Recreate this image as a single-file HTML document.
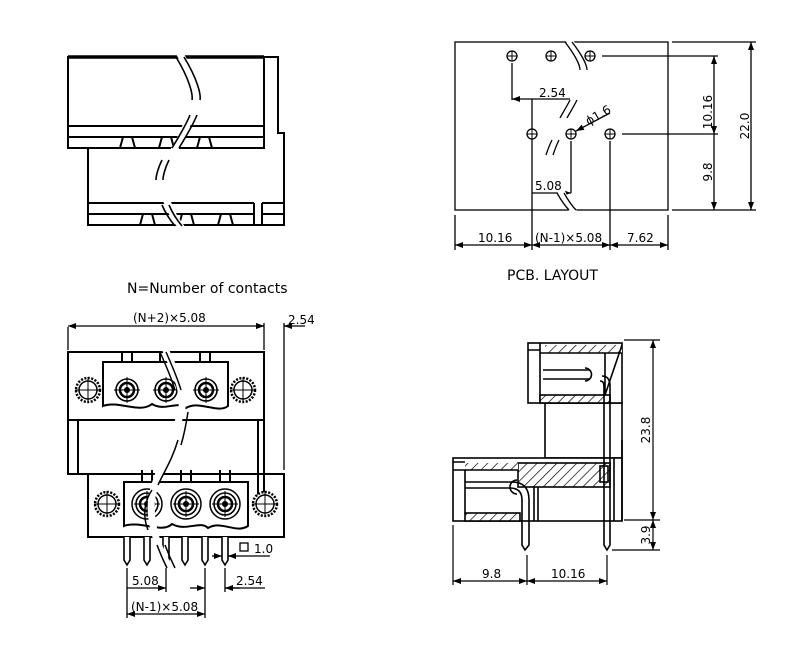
<!DOCTYPE html>
<html><head><meta charset="utf-8"><style>
html,body{margin:0;padding:0;background:#fff}
svg{display:block}
text{font-family:"DejaVu Sans","Liberation Sans",sans-serif;font-size:12px;fill:#000}
</style></head><body>
<svg width="800" height="660" viewBox="0 0 800 660" xmlns="http://www.w3.org/2000/svg">
<defs>
<pattern id="h" width="7" height="7" patternUnits="userSpaceOnUse" patternTransform="rotate(45)">
<rect width="7" height="7" fill="#fff"/><line x1="0" y1="0" x2="0" y2="7" stroke="#000" stroke-width="1.4"/></pattern>
<marker id="a" markerWidth="8" markerHeight="6" refX="8" refY="3" orient="auto" markerUnits="userSpaceOnUse"><path d="M0,0 L8,3 L0,6z" fill="#000"/></marker>
<marker id="b" markerWidth="8" markerHeight="6" refX="0" refY="3" orient="auto" markerUnits="userSpaceOnUse"><path d="M8,0 L0,3 L8,6z" fill="#000"/></marker>
<g id="scr"><circle r="11" fill="#fff" stroke="#000" stroke-width="1.6"/><circle r="7" fill="none" stroke="#000" stroke-width="2.5"/><circle r="3" fill="#000"/><line x1="-13" y1="0" x2="13" y2="0" stroke="#000" stroke-width="1"/><line x1="0" y1="-13" x2="0" y2="13" stroke="#000" stroke-width="1"/></g>
<g id="gear"><circle r="12" fill="#fff" stroke="#000" stroke-width="2.5" stroke-dasharray="2 1.5"/><circle r="9" fill="none" stroke="#000" stroke-width="1.5"/><line x1="-13" y1="0" x2="13" y2="0" stroke="#000"/><line x1="0" y1="-13" x2="0" y2="13" stroke="#000"/></g>
<g id="hole"><circle r="5" fill="#fff" stroke="#000" stroke-width="1.3"/><line x1="-5" y1="0" x2="5" y2="0" stroke="#000"/><line x1="0" y1="-5" x2="0" y2="5" stroke="#000"/></g>
</defs>

<!-- TOP LEFT -->
<g fill="none" stroke="#000" stroke-width="2">
<rect x="68" y="57" width="196" height="91"/>
<line x1="68" y1="57" x2="264" y2="57" stroke-width="3.5"/>
<line x1="68" y1="126" x2="264" y2="126"/>
<line x1="68" y1="137" x2="264" y2="137"/>
<path d="M264,57 H278 V133 H284 V225 H88 V148"/>
<line x1="88" y1="203" x2="254" y2="203"/>
<line x1="88" y1="214" x2="254" y2="214"/>
<line x1="262" y1="203" x2="284" y2="203"/>
<line x1="262" y1="214" x2="284" y2="214"/>
<line x1="254" y1="203" x2="254" y2="225"/>
<line x1="262" y1="203" x2="262" y2="225"/>
<path d="M120,148 L123,137 H132 L135,148 M159,148 L162,137 H171 L174,148 M197,148 L200,137 H209 L212,148"/>
<path d="M140,225 L143,214 H152 L155,225 M179,225 L182,214 H191 L194,225 M218,225 L221,214 H230 L233,225"/>
</g>
<path d="M176,54 C192,80 195,110 170,150 C150,185 165,210 178,228 L186,228 C172,210 158,185 178,150 C203,110 200,80 184,54z" fill="#fff"/>
<path d="M176,57 C190,80 193,95 192,100 M184,57 C198,80 201,95 200,100 M190,115 C186,125 180,135 172,148 M197,115 C193,125 187,135 179,148 M162,160 C158,168 156,176 156,180 M169,160 C165,168 163,176 163,180 M162,205 C165,212 170,220 175,226 M169,205 C172,212 177,220 182,226" fill="none" stroke="#000" stroke-width="1.6"/>

<!-- PCB -->
<g fill="none" stroke="#000" stroke-width="1.3">
<rect x="455" y="42" width="213" height="168"/>
<line x1="672" y1="42" x2="756" y2="42"/><line x1="672" y1="210" x2="756" y2="210"/>
<line x1="751" y1="42" x2="751" y2="210" marker-start="url(#b)" marker-end="url(#a)"/>
<line x1="602" y1="56" x2="718" y2="56"/><line x1="622" y1="134" x2="718" y2="134"/>
<line x1="714" y1="56" x2="714" y2="134" marker-start="url(#b)" marker-end="url(#a)"/>
<line x1="714" y1="134" x2="714" y2="210" marker-end="url(#a)"/>
<line x1="512" y1="63" x2="512" y2="100"/>
<line x1="512" y1="99" x2="570" y2="99" marker-start="url(#b)"/>
<line x1="532" y1="99" x2="532" y2="250"/>
<line x1="610" y1="141" x2="610" y2="250"/>
<line x1="571" y1="141" x2="571" y2="193"/>
<line x1="532" y1="193" x2="571" y2="193" marker-end="url(#a)"/>
<line x1="455" y1="215" x2="455" y2="250"/><line x1="668" y1="215" x2="668" y2="250"/>
<line x1="455" y1="245" x2="532" y2="245" marker-start="url(#b)" marker-end="url(#a)"/>
<line x1="532" y1="245" x2="610" y2="245" marker-start="url(#b)" marker-end="url(#a)"/>
<line x1="610" y1="245" x2="668" y2="245" marker-start="url(#b)" marker-end="url(#a)"/>
<line x1="610" y1="113" x2="576" y2="131" marker-end="url(#a)"/>
</g>
<path d="M565,40 C580,60 580,100 555,140 C545,165 555,195 570,212 L578,212 C563,195 553,165 563,140 C588,100 588,60 573,40z" fill="#fff"/>
<path d="M565,42 C575,55 580,65 580,70 M572,42 C582,55 587,65 587,70 M570,100 C566,108 562,114 560,118 M577,100 C573,108 569,114 567,118 M552,140 C549,146 547,152 546,155 M559,140 C556,146 554,152 553,155 M557,193 C561,200 565,206 569,210 M564,193 C568,200 572,206 576,210" fill="none" stroke="#000" stroke-width="1.3"/>
<use href="#hole" x="512" y="56"/><use href="#hole" x="551" y="56"/><use href="#hole" x="590" y="56"/>
<use href="#hole" x="532" y="134"/><use href="#hole" x="571" y="134"/><use href="#hole" x="610" y="134"/>
<text x="539" y="97">2.54</text>
<text x="535" y="190">5.08</text>
<text x="586" y="124" transform="rotate(-30 590 120)">ϕ1.6</text>
<text x="478" y="242">10.16</text>
<text x="535" y="242">(N-1)×5.08</text>
<text x="627" y="242">7.62</text>
<text x="712" y="112" transform="rotate(-90 712 112)" text-anchor="middle">10.16</text>
<text x="712" y="172" transform="rotate(-90 712 172)" text-anchor="middle">9.8</text>
<text x="749" y="126" transform="rotate(-90 749 126)" text-anchor="middle">22.0</text>
<text x="507" y="280" style="font-size:14px">PCB. LAYOUT</text>
<text x="127" y="293" style="font-size:14px">N=Number of contacts</text>

<!-- BOTTOM LEFT front -->
<g fill="none" stroke="#000" stroke-width="1.3">
<line x1="68" y1="327" x2="68" y2="350"/><line x1="264" y1="323" x2="264" y2="350"/><line x1="284" y1="323" x2="284" y2="470"/>
<line x1="68" y1="326" x2="264" y2="326" marker-start="url(#b)" marker-end="url(#a)"/>
<line x1="256" y1="326" x2="264" y2="326" marker-end="url(#a)"/>
<line x1="292" y1="326" x2="284" y2="326" marker-end="url(#a)"/>
<line x1="284" y1="326" x2="305" y2="326"/>
</g>
<text x="133" y="322">(N+2)×5.08</text>
<text x="288" y="324">2.54</text>
<g fill="none" stroke="#000" stroke-width="2">
<path d="M68,352 H264 V420 H68z"/>
<path d="M78,420 V474 M68,352 V474 H88"/>
<path d="M258,420 V495 H264 V420"/>
<rect x="88" y="474" width="196" height="63"/>
<path d="M103,362 H228 V406 C218,414 200,400 186,408 C178,400 165,412 152,404 C140,414 118,400 103,406z"/>
<path d="M124,482 H248 V526 C236,534 222,520 208,528 C200,520 186,532 172,524 C162,534 140,520 124,526z"/>
<path d="M122,362 V352 M132,362 V352 M160,362 V352 M170,362 V352 M200,362 V352 M210,362 V352"/>
<path d="M142,482 V470 M152,482 V470 M181,482 V470 M191,482 V470 M220,482 V470 M230,482 V470"/>
</g>
<g stroke="#000" stroke-width="1.5" fill="none">
<circle cx="147" cy="504" r="15"/><circle cx="186" cy="504" r="15"/><circle cx="225" cy="504" r="15"/>
</g>
<use href="#scr" x="127" y="390"/><use href="#scr" x="166" y="390"/><use href="#scr" x="206" y="390"/>
<use href="#scr" x="147" y="504"/><use href="#scr" x="186" y="504"/><use href="#scr" x="225" y="504"/>
<use href="#gear" x="88" y="390"/><use href="#gear" x="243" y="390"/>
<use href="#gear" x="107" y="504"/><use href="#gear" x="265" y="504"/>
<g fill="#fff" stroke="#000" stroke-width="1.6">
<path d="M124,537 V560 L127,565 L130,560 V537"/><path d="M144,537 V560 L147,565 L150,560 V537"/>
<path d="M163,537 V560 L166,565 L169,560 V537"/><path d="M182,537 V560 L185,565 L188,560 V537"/>
<path d="M202,537 V560 L205,565 L208,560 V537"/><path d="M222,537 V560 L225,565 L228,560 V537"/>
</g>
<path d="M160,345 C170,370 182,390 178,410 C170,440 150,480 148,500 C146,525 155,550 168,570 L175,570 C162,550 153,525 155,500 C158,480 178,440 185,410 C190,390 178,370 167,345z" fill="#fff"/>
<path d="M160,352 C168,370 172,380 175,390 M166,352 C174,370 178,380 181,390 M188,412 C186,425 184,435 181,445 M178,440 C172,460 165,470 158,485 M152,490 C145,500 142,515 148,530 M157,545 C160,553 163,560 167,568 M165,545 C168,553 171,560 175,568" fill="none" stroke="#000" stroke-width="1.5"/>
<g fill="none" stroke="#000" stroke-width="1.3">
<rect x="240" y="543" width="8" height="8"/>
<line x1="212" y1="556" x2="222" y2="556" marker-end="url(#a)"/><line x1="236" y1="556" x2="228" y2="556" marker-end="url(#a)"/>
<line x1="228" y1="556" x2="270" y2="556"/>
<line x1="127" y1="568" x2="127" y2="618"/><line x1="166" y1="568" x2="166" y2="592"/>
<line x1="205" y1="568" x2="205" y2="618"/><line x1="225" y1="568" x2="225" y2="592"/>
<line x1="127" y1="588" x2="166" y2="588" marker-end="url(#a)"/>
<line x1="190" y1="588" x2="205" y2="588" marker-end="url(#a)"/>
<line x1="240" y1="588" x2="225" y2="588" marker-end="url(#a)"/><line x1="225" y1="588" x2="265" y2="588"/>
<line x1="127" y1="614" x2="205" y2="614" marker-start="url(#b)" marker-end="url(#a)"/>
</g>
<text x="254" y="553">1.0</text>
<text x="132" y="585">5.08</text>
<text x="236" y="585">2.54</text>
<text x="131" y="611">(N-1)×5.08</text>

<!-- SIDE VIEW -->
<g fill="none" stroke="#000" stroke-width="1.6">
<rect x="545" y="403" width="77" height="55"/>
<rect x="528" y="343" width="94" height="60" fill="#fff"/>
<path d="M540,343 V403 M528,350 H540"/>
<rect x="545" y="345" width="77" height="8" fill="url(#h)" stroke="none"/>
<rect x="540" y="395" width="70" height="8" fill="url(#h)"/>
<path d="M605,353 V395 L622,345" />
<path d="M540,353 H622"/>
<path d="M543,370 H590 M543,379 H590"/>
<path d="M585,368 A5,5 0 0 1 585,381"/>
<rect x="453" y="458" width="169" height="63" fill="#fff"/>
<rect x="518" y="463" width="92" height="24" fill="url(#h)"/>
<rect x="465" y="463" width="53" height="7" fill="url(#h)" stroke="none"/>
<rect x="465" y="513" width="55" height="8" fill="url(#h)"/>
<path d="M453,470 H518 M465,470 V513 M453,462 H465"/>
<path d="M465,488 H510 Q522,488 522,500 V545 L525,550 L529,545 V500 Q529,482 512,482 H465"/>
<path d="M517,480 A7,7 0 0 0 517,494"/>
<path d="M534,487 V521 M538,487 V521"/>
<rect x="600" y="466" width="8" height="16"/>
<path d="M602,376 Q610,376 610,386 V545 L607,550 L604,545 V386 Q604,381 600,381"/>
<path d="M614,458 V521 M622,440 V521"/>
</g>
<g fill="none" stroke="#000" stroke-width="1.2">
<line x1="624" y1="340" x2="660" y2="340"/><line x1="624" y1="520" x2="660" y2="520"/><line x1="612" y1="550" x2="660" y2="550"/>
<line x1="653" y1="340" x2="653" y2="520" marker-start="url(#b)" marker-end="url(#a)"/>
<line x1="653" y1="520" x2="653" y2="550" marker-start="url(#b)" marker-end="url(#a)"/>
<line x1="453" y1="525" x2="453" y2="585"/><line x1="527" y1="555" x2="527" y2="585"/><line x1="607" y1="555" x2="607" y2="585"/>
<line x1="453" y1="581" x2="527" y2="581" marker-start="url(#b)" marker-end="url(#a)"/>
<line x1="527" y1="581" x2="607" y2="581" marker-start="url(#b)" marker-end="url(#a)"/>
</g>
<text x="482" y="578">9.8</text>
<text x="551" y="578">10.16</text>
<text x="650" y="430" transform="rotate(-90 650 430)" text-anchor="middle">23.8</text>
<text x="650" y="535" transform="rotate(-90 650 535)" text-anchor="middle">3.9</text>
</svg>
</body></html>
